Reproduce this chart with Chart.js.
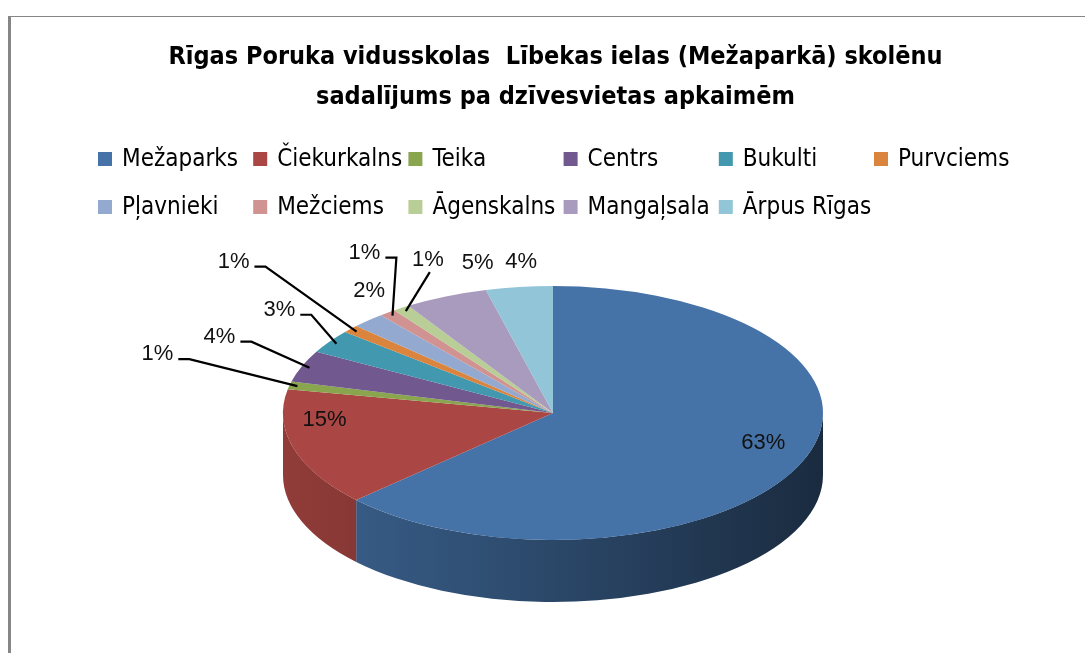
<!DOCTYPE html>
<html>
<head>
<meta charset="utf-8">
<script src="https://cdn.jsdelivr.net/npm/chart.js@4/dist/chart.umd.min.js"></script>
<style>
  html, body { margin: 0; padding: 0; background: #fff; overflow: hidden; }
  canvas { display: block; }
</style>
</head>
<body>
<canvas id="pieCanvas" width="1085" height="653"></canvas>
<script>
// data
const titleLines = ['Rīgas Poruka vidusskolas  Lībekas ielas (Mežaparkā) skolēnu', 'sadalījums pa dzīvesvietas apkaimēm'];
const districts = ['Mežaparks', 'Čiekurkalns', 'Teika', 'Centrs', 'Bukulti', 'Purvciems',
  'Pļavnieki', 'Mežciems', 'Āgenskalns', 'Mangaļsala', 'Ārpus Rīgas'];
const shares = [63, 15, 1, 4, 3, 1, 2, 1, 1, 5, 4];
const sliceColors = ['#4572A7', '#AA4643', '#89A54E', '#71588F', '#4198AF', '#DB843D',
  '#93A9CF', '#D19392', '#B9CD96', '#A99BBD', '#92C5D7'];

// where each percent label sits: r = fraction of radius on the slice middle, then a nudge
// leader: '' none, 'h' from the right side of the text, 'v' from below the text
const labelLayout = [
  { r: 0.8, dx: 12, dy: -10, leader: '' },
  { r: 0.8, dx: -21, dy: -21, leader: '' },
  { r: 0.97, dx: -140, dy: -32, leader: 'h' },
  { r: 0.97, dx: -90, dy: -31, leader: 'h' },
  { r: 0.97, dx: -57, dy: -34, leader: 'h' },
  { r: 0.97, dx: -123, dy: -70, leader: 'h' },
  { r: 1, dx: 1, dy: -29, leader: '' },
  { r: 0.97, dx: -28, dy: -63, leader: 'h' },
  { r: 0.97, dx: 22, dy: -51, leader: 'v' },
  { r: 1, dx: 32, dy: -34, leader: '' },
  { r: 1, dx: 2, dy: -25, leader: '' }
];

// ellipse of the pie top and its depth on screen
const CX = 553, CY = 413, RX = 270, RY = 127, DEPTH = 62;
const narrow = '"Liberation Sans Narrow", "DejaVu Sans Condensed", sans-serif';

function shade(hex, k) {
  const n = parseInt(hex.slice(1), 16);
  const r = Math.round(((n >> 16) & 255) * k);
  const g = Math.round(((n >> 8) & 255) * k);
  const b = Math.round((n & 255) * k);
  return `rgb(${r},${g},${b})`;
}

function onEllipse(a, f) {
  return { x: CX + f * RX * Math.cos(a), y: CY + f * RY * Math.sin(a) };
}

const framePlugin = {
  id: 'frame',
  beforeDraw(chart) {
    const ctx = chart.ctx;
    ctx.save();
    ctx.fillStyle = '#fff';
    ctx.fillRect(0, 0, chart.width, chart.height);
    ctx.fillStyle = '#868686';
    ctx.fillRect(8, 16, chart.width - 8, 1);
    ctx.fillRect(8, 16, 3, chart.height - 16);
    ctx.restore();
  }
};

// squashes the round pie into an ellipse and puts a side wall under it
const pie3dPlugin = {
  id: 'pie3d',
  beforeDatasetsDraw(chart) {
    const ctx = chart.ctx;
    const arcs = chart.getDatasetMeta(0).data;
    const first = arcs[0];
    ctx.save();
    arcs.forEach((arc, i) => {
      const s = Math.max(arc.startAngle, 0);
      const e = Math.min(arc.endAngle, Math.PI);
      if (e <= s) return;
      const grad = ctx.createLinearGradient(CX - RX, 0, CX + RX, 0);
      grad.addColorStop(0, shade(sliceColors[i], 0.85));
      grad.addColorStop(0.35, shade(sliceColors[i], 0.7));
      grad.addColorStop(1, shade(sliceColors[i], 0.38));
      ctx.beginPath();
      ctx.ellipse(CX, CY, RX, RY, 0, s, e);
      ctx.ellipse(CX, CY + DEPTH, RX, RY, 0, e, s, true);
      ctx.closePath();
      ctx.fillStyle = grad;
      ctx.fill();
    });
    ctx.restore();
    ctx.save();
    ctx.translate(CX, CY);
    ctx.scale(RX / first.outerRadius, RY / first.outerRadius);
    ctx.translate(-first.x, -first.y);
  },
  afterDatasetsDraw(chart) {
    chart.ctx.restore();
  }
};

const labelPlugin = {
  id: 'pctLabels',
  afterDraw(chart) {
    const ctx = chart.ctx;
    const arcs = chart.getDatasetMeta(0).data;
    const total = shares.reduce((a, b) => a + b, 0);
    ctx.save();
    ctx.font = '22px "Liberation Sans", sans-serif';
    ctx.textAlign = 'center';
    ctx.textBaseline = 'middle';
    ctx.strokeStyle = '#000';
    ctx.lineWidth = 2.2;
    arcs.forEach((arc, i) => {
      const lay = labelLayout[i];
      const mid = (arc.startAngle + arc.endAngle) / 2;
      const anchor = onEllipse(mid, lay.r);
      const lx = anchor.x + lay.dx;
      const ly = anchor.y + lay.dy;
      const txt = Math.round(shares[i] / total * 100) + '%';
      const w = ctx.measureText(txt).width;
      if (lay.leader === 'h') {
        ctx.beginPath();
        ctx.moveTo(lx + w / 2 + 5, ly + 5);
        ctx.lineTo(lx + w / 2 + 16, ly + 5);
        ctx.lineTo(anchor.x, anchor.y);
        ctx.stroke();
      } else if (lay.leader === 'v') {
        ctx.beginPath();
        ctx.moveTo(lx + 2, ly + 12);
        ctx.lineTo(anchor.x, anchor.y);
        ctx.stroke();
      }
      ctx.fillStyle = '#111';
      ctx.fillText(txt, lx, ly);
    });
    ctx.restore();
  }
};

// Excel style legend: six columns, two rows
const gridLegendPlugin = {
  id: 'gridLegend',
  afterDraw(chart) {
    const ctx = chart.ctx;
    ctx.save();
    ctx.font = '24px ' + narrow;
    ctx.textBaseline = 'middle';
    ctx.textAlign = 'left';
    districts.forEach((name, i) => {
      const x = 98 + (i % 6) * 155.2;
      const y = 159 + Math.floor(i / 6) * 48;
      ctx.fillStyle = sliceColors[i];
      ctx.fillRect(x, y - 7, 14, 14);
      ctx.fillStyle = '#000';
      ctx.fillText(name, x + 24, y + 1);
    });
    ctx.restore();
  }
};

const ctx = document.getElementById('pieCanvas').getContext('2d');
const chart = new Chart(ctx, {
  type: 'pie',
  data: {
    labels: districts,
    datasets: [{
      data: shares,
      backgroundColor: sliceColors,
      borderWidth: 0,
      clip: false
    }]
  },
  options: {
    responsive: false,
    animation: false,
    layout: { padding: { left: 26, right: 0, top: 0, bottom: 0 } },
    plugins: {
      legend: { display: false },
      tooltip: { enabled: false },
      title: {
        display: true,
        text: titleLines,
        color: '#000',
        font: { family: narrow, size: 25, weight: 'bold', lineHeight: '40px' },
        padding: { top: 37, bottom: 10 }
      }
    }
  },
  plugins: [framePlugin, pie3dPlugin, labelPlugin, gridLegendPlugin]
});
</script>
</body>
</html>
